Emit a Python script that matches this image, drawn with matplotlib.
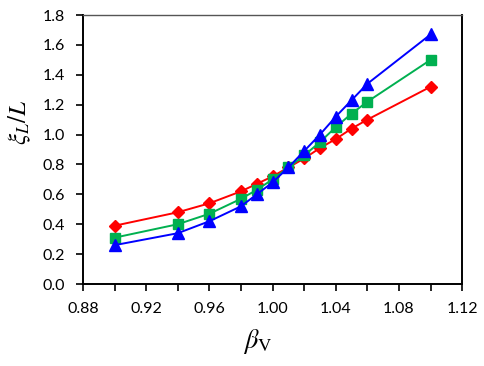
import numpy as np
import matplotlib
matplotlib.use('Agg')
import matplotlib.pyplot as plt
from matplotlib.ticker import MultipleLocator

plt.rcParams['font.family'] = ['Lato', 'DejaVu Sans']
plt.rcParams['mathtext.fontset'] = 'stix'

beta = [0.90, 0.94, 0.96, 0.98, 0.99, 1.00, 1.01, 1.02, 1.03, 1.04, 1.05, 1.06, 1.10]
xi_red = [0.39, 0.48, 0.54, 0.62, 0.67, 0.72, 0.78, 0.84, 0.91, 0.97, 1.04, 1.10, 1.32]
xi_green = [0.31, 0.40, 0.47, 0.57, 0.63, 0.70, 0.78, 0.86, 0.95, 1.05, 1.14, 1.22, 1.50]
xi_blue = [0.26, 0.34, 0.42, 0.52, 0.60, 0.68, 0.78, 0.89, 1.00, 1.12, 1.23, 1.34, 1.67]

fig = plt.figure(figsize=(4.85, 3.66), dpi=100)
ax = fig.add_axes([0.171, 0.224, 0.782, 0.735])

ax.plot(beta, xi_red, color='#FF0000', marker='D', markersize=6, lw=1.4)
ax.plot(beta, xi_green, color='#00B050', marker='s', markersize=7, lw=1.4)
ax.plot(beta, xi_blue, color='#0000FF', marker='^', markersize=8, lw=1.4)

ax.set_xlim(0.88, 1.12)
ax.set_ylim(0.0, 1.8)
ax.xaxis.set_major_locator(MultipleLocator(0.04))
ax.xaxis.set_minor_locator(MultipleLocator(0.02))
ax.yaxis.set_major_locator(MultipleLocator(0.2))
ax.xaxis.set_major_formatter(plt.FuncFormatter(lambda x, p: f'{x:.2f}'))
ax.yaxis.set_major_formatter(plt.FuncFormatter(lambda y, p: f'{y:.1f}'))

ax.tick_params(axis='both', direction='out', length=5, width=1.2, labelsize=11.5, pad=8)
ax.tick_params(axis='x', which='minor', direction='out', length=5, width=1.2)
for s in ['left', 'bottom', 'right']:
    ax.spines[s].set_linewidth(1.4)
    ax.spines[s].set_color('black')
ax.spines['top'].set_linewidth(1.0)
ax.spines['top'].set_color('#555555')

ax.set_xlabel(r'$\beta_{\mathrm{V}}$', fontsize=19, va='center')
ax.xaxis.set_label_coords(0.46, -0.212)
ax.set_ylabel(r'$\xi_L/L$', fontsize=18, va='center')
ax.yaxis.set_label_coords(-0.166, 0.60)

plt.savefig('out.png', dpi=100)
